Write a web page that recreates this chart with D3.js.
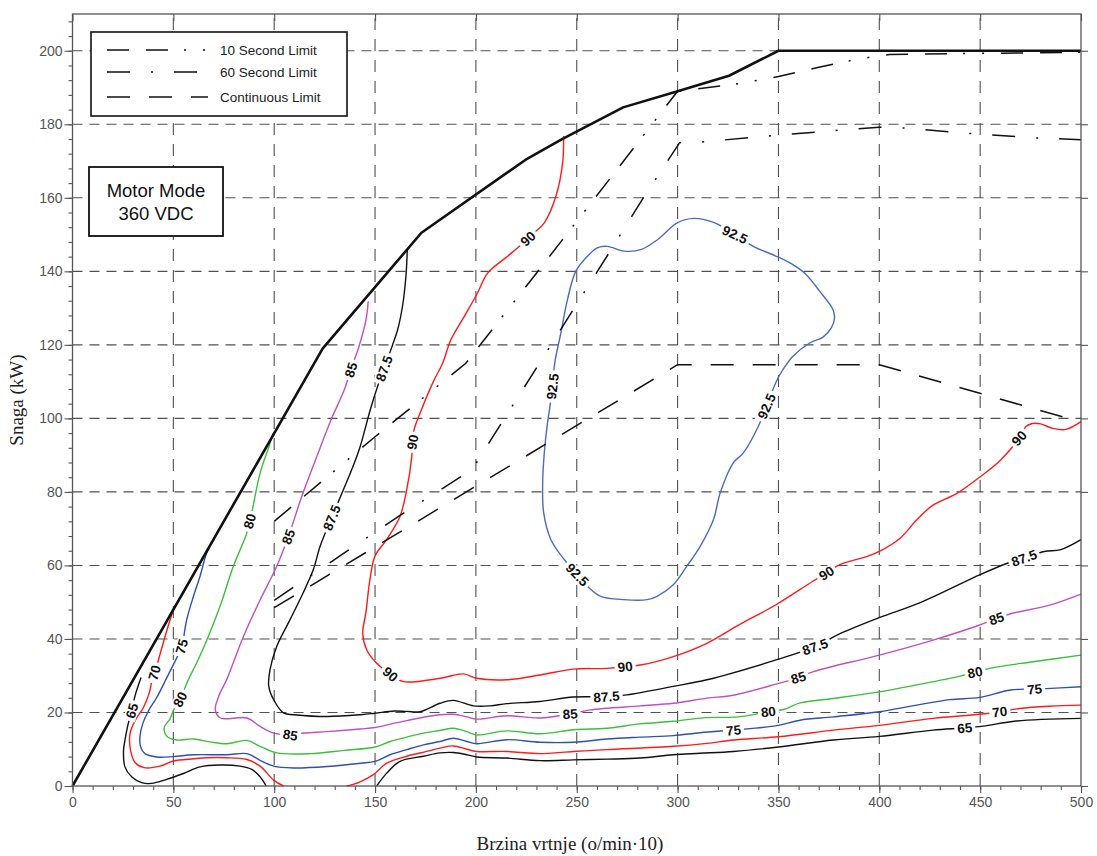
<!DOCTYPE html>
<html>
<head>
<meta charset="utf-8">
<script src="https://cdn.jsdelivr.net/npm/d3@7"></script>
<style>
  body { margin: 0; background: #fff; }
  svg { display: block; font-family: "Liberation Sans", Arial, sans-serif; }
</style>
</head>
<body>
<svg id="chart"></svg>
<script>
// Axis ticks
const xTicks = [0, 50, 100, 150, 200, 250, 300, 350, 400, 450, 500];
const yTicks = [0, 20, 40, 60, 80, 100, 120, 140, 160, 180, 200];

// Maximum power envelope and the time limits (speed, kW)
const envelope = [[0,0],[124,119],[173,150.5],[224.5,170.3],[242.5,175.9],[273,184.6],[300,189],[325.5,193.2],[350,200],[500,200]];
const tenSecond = [[100,72],[150,95],[195,115],[230,139.5],[252,155],[281,175.5],[300,189],[330,191],[350,193],[370,195.5],[390,197.8],[405,199],[500,199.6]];
const sixtySecond = [[100,50.5],[127,60.5],[162,73.5],[198,86],[224,108.5],[266,145],[283,160],[301,175],[312,175.2],[345,176.8],[378,178.3],[400,179.2],[412,179],[445,177.5],[477,176.3],[500,175.8]];
const continuous = [[100,48.5],[300,114.6],[400,114.6],[500,99]];

// Efficiency contours (speed, kW)
const eff65a = [[34,29.5],[31,24.5],[29.3,20.2],[27.6,16.9],[26,12.4],[25.3,9.7],[26,5.2],[29.3,2.5],[34.3,0.9],[39.2,0.7],[46.7,1.8],[55,3.4],[63.2,5.2],[73.2,5.7],[83.1,5.4],[88.9,4.5],[93,2.5],[96,0]];
const eff65b = [[150.8,0],[155.8,3.5],[162.4,6.7],[174,8.1],[182.2,9],[188.8,9.1],[195.5,8.5],[200.4,7.9],[215.3,7.6],[231.8,6.9],[248.3,7.1],[264.9,7.3],[281.4,7.6],[297.9,8.5],[311.2,8.9],[327.7,9.4],[350,10.6],[377.2,12.5],[400,13.5],[426.7,15.2],[442.4,15.8],[451.5,16.3],[468,17.7],[500,18.4]];
const eff70a = [[50,48],[47.8,44.2],[44.5,38],[41.7,32.6],[39.5,29],[38.1,25.4],[35.1,21.3],[31,17.8],[28.5,14.2],[28.8,9.7],[31,6.4],[35.5,5],[43.4,5.4],[50,6.8],[60,7.4],[66.6,7.7],[76.5,7.7],[86.4,7.2],[93,5.4],[99.7,1.6],[104.6,0]];
const eff70b = [[136,0],[142,1],[149.2,3.1],[155.8,6.2],[165.7,8.1],[175.6,9.4],[182.2,10.3],[188.8,10.9],[195.5,10],[200.4,9.4],[215.3,9.4],[231.8,8.8],[248.3,9.4],[264.9,9.9],[297.9,10.8],[314.5,11.6],[327.7,12.5],[350,13.4],[377.2,15.2],[400,16.5],[426.7,18.4],[449.8,19.5],[459.7,20.2],[469.6,21.1],[484.5,21.7],[500,22]];
const eff75 = [[70,67],[66.5,63.3],[63.2,57],[59.9,51.5],[56.6,45.2],[54.1,37.9],[50.8,33.9],[46.7,29.4],[41.7,24],[37.6,20.4],[34.8,16.9],[33.4,13.3],[33.8,10.6],[35.9,8.8],[41.7,7.9],[50,8],[60,8.5],[76.5,8.5],[86.4,8.8],[93,7],[99.7,5.4],[109.8,4.9],[126.4,5.3],[143,6.2],[150,6.7],[157.4,8.5],[165.7,9.9],[174,11.2],[182.2,12.1],[188.8,13],[195.5,12.1],[200.4,11.5],[215.3,12.6],[231.8,11.9],[248.3,11.9],[264.9,12.8],[281.4,13.3],[297.9,13.7],[311.2,14.5],[327.7,15.2],[336,15.6],[350,16.5],[360.7,17.9],[377.2,18.8],[400,20.2],[418.5,22],[435,23.5],[449.8,24.1],[465.2,26.1],[482.8,26.5],[500,27]];
const eff80 = [[99.5,96],[97.5,92.5],[93,85.1],[88.8,74.2],[86.4,68.8],[79.7,59.7],[73.1,48.8],[67.3,40.6],[62,34],[57.5,29],[53.3,23.6],[50,20.5],[48.3,18.2],[45.5,16],[45.9,14.3],[47.5,13.2],[51.7,12.5],[59.9,12.8],[68.2,12],[76.5,11.5],[86.4,12.4],[93,10.8],[101.3,9],[118,8.8],[134.7,9.7],[150,10.6],[157.4,12.1],[165.7,13.3],[174,14.4],[182.2,15.1],[188.8,15.7],[195.5,14.8],[200.4,13.9],[215.3,15],[231.8,14.2],[248.3,15.3],[264.9,15.7],[281.4,16.9],[297.9,17.6],[314,18.6],[330,18.8],[345,20.2],[352.5,20.8],[360.7,22.6],[377.2,23.8],[400,25.6],[418.5,27.5],[440,29.9],[454.8,32],[476.2,33.8],[500,35.6]];
const eff85 = [[146.6,131.8],[145.5,126.8],[142,119.5],[138,113.2],[134.7,107.7],[128.1,99.5],[121.1,89.6],[113.7,78.8],[107,67.8],[101.2,59.7],[93,50.6],[84.7,40.6],[76.5,29],[72.4,24.3],[70.8,20.7],[73.3,18.5],[86.5,18.5],[93,16.2],[99.8,14.4],[108,13.9],[114.6,14.4],[126.2,14.8],[142.7,15.5],[150,15.9],[159.5,17.1],[165.7,17.8],[174,18.7],[182.2,19.4],[188.8,19.5],[195.5,18.8],[200.4,18.2],[215.3,19.1],[231.8,18.5],[246.7,19.6],[256.6,20.7],[281.4,21.8],[297.9,22.5],[314.5,23.9],[327.7,24.7],[350,27.9],[359.9,29.5],[367.3,31.1],[400,35.6],[426.7,39.7],[449.8,43.8],[458.1,45.6],[464.7,46.8],[484.5,49.2],[500,52.2]];
const eff875 = [[166,146],[165.3,138.6],[163.6,130.5],[161.2,124.1],[158.7,120],[154.5,113.6],[151.2,108.6],[147.7,102.5],[142.6,92.3],[138.4,86],[134.3,80.6],[128.5,73],[122.8,65.3],[119.5,59],[114.5,52.7],[107.8,45.2],[101.2,37.9],[97.9,31.6],[97.3,27.1],[99.8,23.4],[104.8,19.8],[109.8,19.4],[126.4,18.9],[143,19.4],[150,19.8],[159.5,20.4],[165.7,20.3],[172.3,20.2],[182.2,22.5],[188.8,23.3],[198.8,21.8],[207,21.8],[215.3,22.4],[231.8,23],[248.3,24.2],[264.9,24.3],[274.8,24.8],[297.9,27.1],[314.5,28.9],[350,34.5],[368.2,37.9],[380,41.3],[400,45.8],[420,49.8],[450,57.5],[463.5,60.6],[471.8,62],[481.8,63.8],[490,64.3],[500,67]];
const eff90 = [[243.5,176.8],[243,169.5],[239.7,160.5],[233.9,153.2],[228.9,150.5],[225,148.5],[220.7,146.4],[215.7,144.1],[205.8,139.5],[200.8,134.1],[194.2,127.7],[187.6,121.4],[183.5,115],[178.9,110],[172.3,101.4],[169.3,96.8],[168.5,93],[168.2,89.6],[165.7,80.6],[162.4,73.4],[155.8,67.1],[150,62.6],[147.5,56.3],[145.5,47.3],[143.9,41.5],[145.9,37],[150.8,33.4],[158,30.2],[164,28.4],[182.2,29.3],[193.8,30.5],[200.4,29.3],[215.3,28.9],[231.8,30.2],[248.3,31.8],[264.9,32],[281.4,32.9],[297.9,35.2],[314.5,38.8],[330.6,43.9],[348.8,49.3],[367.1,55.7],[373.8,57.9],[380.4,60.2],[393.7,62.4],[400,63.8],[410.3,67.4],[418.6,72.4],[426.1,76.2],[438.5,79.6],[450.2,84.2],[460.2,88.7],[469.3,94.6],[472.6,97.7],[475.9,98.6],[480,98.5],[485.9,97.3],[492.5,97],[500,99.1]];
const eff925 = [[255.3,144.1],[260.2,146.4],[265.2,146.8],[273.4,145.5],[281.7,145.9],[290,148.6],[299.8,153.2],[307.9,154.4],[317.8,153.3],[328.5,150],[337.5,146.8],[349,144.1],[357.2,141.8],[363.8,139.1],[370.4,134.6],[377,129.6],[377.8,127.3],[376.2,124.6],[372.1,122.1],[365.5,120.5],[357.2,116.9],[352.3,113.3],[349,110.1],[344.1,103.3],[340,97.8],[332.6,90.6],[327.6,87.9],[321.1,79.7],[317.8,72.5],[311.2,65.2],[304.6,59.8],[298,54.8],[289.8,51.6],[284.9,50.7],[273.4,50.7],[261.8,51.6],[256.1,53.9],[250.3,57.5],[243.8,61.6],[237.2,67],[233.6,74.3],[233.1,82.4],[233.9,90.6],[235.5,98.7],[237.2,105.1],[238,108.7],[239.1,115.1],[242.1,123.2],[245.4,132.3],[249.5,140]];

// Contour label spots (speed, kW)
const labels65 = [[29.3,20.5],[442.4,15.8]];
const labels70 = [[40.6,30.8],[459.7,20.3]];
const labels75 = [[54.1,38],[327.7,15.2],[477,26.3]];
const labels80 = [[53.3,23.6],[88,72],[345,20.2],[447.4,31]];
const labels85 = [[138,113.2],[107,67.8],[108,13.9],[246.7,19.6],[359.9,29.5],[458.1,45.6]];
const labels875 = [[154.5,113.6],[128.5,73],[264.8,24.3],[368.2,37.9],[471.8,62]];
const labels90 = [[225.6,149],[169,93.5],[157.5,30.3],[274,32.3],[373.8,57.9],[469.3,94.6]];
const labels925 = [[328.5,150],[238,108.7],[344.1,103.3],[250.3,57.5]];

const legendNames = ['10 Second Limit', '60 Second Limit', 'Continuous Limit'];

// SVG Dimensions
let width = 1097, height = 856;
let svg = d3.select('#chart').attr('width', width).attr('height', height);

let xScale = d3.scaleLinear().domain([0, 500]).range([72.5, 1081]);
let yScale = d3.scaleLinear().domain([0, 210]).range([786, 14]);

const dash10 = '22,17,22,16,2,17,2,17';
const dash60 = '23,21,2,21';
const dashCont = '23,19';

// Contour table built from the arrays above
const contours = [
    { text: '65', color: '#111', paths: [eff65a, eff65b], labels: labels65 },
    { text: '70', color: '#ff1a1a', paths: [eff70a, eff70b], labels: labels70 },
    { text: '75', color: '#2f4fb5', paths: [eff75], labels: labels75 },
    { text: '80', color: '#3cbf3c', paths: [eff80], labels: labels80 },
    { text: '85', color: '#c050c0', paths: [eff85], labels: labels85 },
    { text: '87.5', color: '#111', paths: [eff875], labels: labels875 },
    { text: '90', color: '#ff1a1a', paths: [eff90], labels: labels90 },
    { text: '92.5', color: '#4a6bbf', paths: [eff925], labels: labels925, closed: true }
];

// Function to draw the grid
function drawGrid() {
    let g = svg.append('g').attr('stroke', '#505050').attr('stroke-width', 1.1);
    g.selectAll('.hgrid')
        .data(yTicks.filter(d => d > 0))
        .enter()
        .append('line')
        .attr('x1', xScale(0)).attr('x2', xScale(500))
        .attr('y1', d => yScale(d)).attr('y2', d => yScale(d))
        .attr('stroke-dasharray', '10,7');
    g.selectAll('.vgrid')
        .data(xTicks.filter(d => d > 0 && d < 500))
        .enter()
        .append('line')
        .attr('x1', d => xScale(d)).attr('x2', d => xScale(d))
        .attr('y1', yScale(0)).attr('y2', yScale(210))
        .attr('stroke-dasharray', '12,9');
}

// Function to generate the axes and the frame
function drawAxes() {
    let xMajor = d3.axisBottom(xScale).tickValues(xTicks).tickSize(7).tickPadding(4).tickSizeOuter(0);
    let xMinor = d3.axisBottom(xScale).tickValues(d3.range(0, 501, 10)).tickSize(4).tickFormat('');
    let yMajor = d3.axisLeft(yScale).tickValues(yTicks).tickSize(8).tickPadding(2).tickSizeOuter(0);
    let yMinor = d3.axisLeft(yScale).tickValues(d3.range(0, 211, 4)).tickSize(4).tickFormat('');

    svg.append('g').attr('transform', `translate(0, ${yScale(0)})`).call(xMinor);
    svg.append('g').attr('transform', `translate(0, ${yScale(0)})`).call(xMajor);
    svg.append('g').attr('transform', `translate(${xScale(0)}, 0)`).call(yMinor);
    svg.append('g').attr('transform', `translate(${xScale(0)}, 0)`).call(yMajor);

    // top and right ticks
    svg.append('g').attr('transform', `translate(0, ${yScale(210)})`)
        .call(d3.axisTop(xScale).tickValues(xTicks).tickSize(-7).tickFormat(''));
    svg.append('g').attr('transform', `translate(${xScale(500)}, 0)`)
        .call(d3.axisRight(yScale).tickValues(yTicks).tickSize(7).tickFormat(''));

    svg.selectAll('.domain').attr('stroke', 'none');
    svg.selectAll('.tick line').attr('stroke', '#555').attr('stroke-width', 1.1);
    svg.selectAll('.tick text').attr('fill', '#555').style('font-size', '14px')
        .style('font-family', '"Liberation Sans", Arial, sans-serif');

    svg.append('rect')
        .attr('x', xScale(0)).attr('y', yScale(210))
        .attr('width', xScale(500) - xScale(0))
        .attr('height', yScale(0) - yScale(210))
        .attr('fill', 'none').attr('stroke', '#555').attr('stroke-width', 1.3);
}

// Function to place one label along a contour
function placeLabel(g, pts, pos, text, closed) {
    let list = closed ? pts.concat([pts[0]]) : pts;
    let px = xScale(pos[0]), py = yScale(pos[1]);
    let best = null, bestD = Infinity;
    for (let i = 0; i < list.length - 1; i++) {
        let ax = xScale(list[i][0]), ay = yScale(list[i][1]);
        let bx = xScale(list[i + 1][0]), by = yScale(list[i + 1][1]);
        let dx = bx - ax, dy = by - ay;
        let t = ((px - ax) * dx + (py - ay) * dy) / (dx * dx + dy * dy);
        t = Math.max(0, Math.min(1, t));
        let cx = ax + t * dx, cy = ay + t * dy;
        let d = (cx - px) ** 2 + (cy - py) ** 2;
        if (d < bestD) {
            let p0 = list[Math.max(i - 1, 0)], p1 = list[Math.min(i + 2, list.length - 1)];
            let ang = Math.atan2(yScale(p1[1]) - yScale(p0[1]), xScale(p1[0]) - xScale(p0[0])) * 180 / Math.PI;
            bestD = d;
            best = { cx, cy, ang };
        }
    }
    let a = best.ang;
    if (a > 90) a -= 180;
    if (a < -90) a += 180;

    let lg = g.append('g').attr('transform', `translate(${best.cx}, ${best.cy}) rotate(${a})`);
    let rect = lg.append('rect').attr('fill', '#fff');
    let t = lg.append('text')
        .attr('text-anchor', 'middle')
        .attr('dy', '0.36em')
        .attr('fill', '#111')
        .style('font-size', '13.5px')
        .style('font-weight', 'bold')
        .text(text);
    let w = t.node().getComputedTextLength() + 6;
    rect.attr('x', -w / 2).attr('y', -6).attr('width', w).attr('height', 12);
}

// Function to draw the contours
function drawContours() {
    let line = d3.line().x(d => xScale(d[0])).y(d => yScale(d[1])).curve(d3.curveCatmullRom.alpha(0.5));
    let loop = d3.line().x(d => xScale(d[0])).y(d => yScale(d[1])).curve(d3.curveCatmullRomClosed.alpha(0.5));
    let g = svg.append('g');
    contours.forEach(c => {
        c.paths.forEach(p => {
            g.append('path')
                .attr('d', c.closed ? loop(p) : line(p))
                .attr('fill', 'none')
                .attr('stroke', c.color)
                .attr('stroke-width', 1.4);
        });
    });
    let lg = svg.append('g');
    contours.forEach(c => {
        c.labels.forEach(pos => {
            // the label sits on whichever piece of the contour is closest
            let dist = p => d3.min(p, q => (q[0] - pos[0]) ** 2 + (q[1] - pos[1]) ** 2);
            let target = c.paths.reduce((a, b) => dist(a) <= dist(b) ? a : b);
            placeLabel(lg, target, pos, c.text, c.closed);
        });
    });
}

// Function to draw the limit lines and the envelope
function drawLimits() {
    let line = d3.line().x(d => xScale(d[0])).y(d => yScale(d[1]));
    let g = svg.append('g').attr('fill', 'none').attr('stroke', '#111');
    g.append('path').attr('d', line(continuous)).attr('stroke-width', 1.5).attr('stroke-dasharray', dashCont);
    g.append('path').attr('d', line(sixtySecond)).attr('stroke-width', 1.5).attr('stroke-dasharray', dash60);
    g.append('path').attr('d', line(tenSecond)).attr('stroke-width', 1.5).attr('stroke-dasharray', dash10);
    g.append('path').attr('d', line(envelope)).attr('stroke-width', 2.6).attr('stroke-linejoin', 'round');
}

// Function to draw the legend and the mode box
function drawBoxes() {
    let lg = svg.append('g');
    lg.append('rect').attr('x', 91).attr('y', 32).attr('width', 256).attr('height', 84)
        .attr('fill', '#fff').attr('stroke', '#111').attr('stroke-width', 1.6);
    let dashes = [dash10, dash60, dashCont];
    let rows = [50, 72, 97];
    legendNames.forEach((name, i) => {
        lg.append('line').attr('x1', 107).attr('x2', 208).attr('y1', rows[i]).attr('y2', rows[i])
            .attr('stroke', '#111').attr('stroke-width', 1.5).attr('stroke-dasharray', dashes[i]);
        lg.append('text').attr('x', 220).attr('y', rows[i] + 5)
            .attr('fill', '#222').style('font-size', '13.5px').text(name);
    });

    let mg = svg.append('g');
    mg.append('rect').attr('x', 89).attr('y', 167).attr('width', 134).attr('height', 69)
        .attr('fill', '#fff').attr('stroke', '#111').attr('stroke-width', 1.8);
    mg.append('text').attr('x', 156).attr('y', 197).attr('text-anchor', 'middle')
        .attr('fill', '#111').style('font-size', '18.5px').text('Motor Mode');
    mg.append('text').attr('x', 156).attr('y', 220).attr('text-anchor', 'middle')
        .attr('fill', '#111').style('font-size', '18.5px').text('360 VDC');
}

// Function to add the axis titles
function drawTitles() {
    svg.append('text')
        .attr('transform', `translate(23, ${yScale(105)}) rotate(-90)`)
        .attr('text-anchor', 'middle')
        .attr('fill', '#222')
        .style('font-family', '"Liberation Serif", "Times New Roman", serif')
        .style('font-size', '19px')
        .text('Snaga (kW)');
    svg.append('text')
        .attr('x', 570).attr('y', 850)
        .attr('text-anchor', 'middle')
        .attr('fill', '#222')
        .style('font-family', '"Liberation Serif", "Times New Roman", serif')
        .style('font-size', '19px')
        .text('Brzina vrtnje (o/min·10)');
}

drawGrid();
drawContours();
drawLimits();
drawAxes();
drawBoxes();
drawTitles();
</script>
</body>
</html>
